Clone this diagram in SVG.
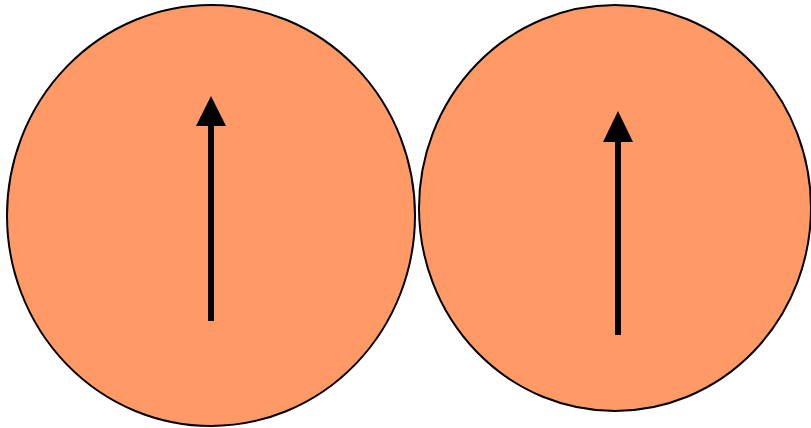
<svg xmlns="http://www.w3.org/2000/svg" width="811" height="428" viewBox="0 0 811 428">
<style>
.node{fill:#FF9966;stroke:#000;stroke-width:2}
.arr{stroke:#000;stroke-width:6;fill:none}
.head{fill:#000}
</style>
<rect width="811" height="428" fill="#fff"/>
<g id="left">
<ellipse class="node" cx="211" cy="215.5" rx="204" ry="210.5"/>
</g>
<g id="right">
<ellipse class="node" cx="615" cy="208" rx="196" ry="203"/>
</g>
<g id="connectors">
<line class="arr" x1="211" y1="321" x2="211" y2="124"/>
<polygon class="head" points="211,96 226,126 196,126"/>
<line class="arr" x1="618" y1="335" x2="618" y2="140"/>
<polygon class="head" points="618,111 633,142 603,142"/>
</g>
</svg>
